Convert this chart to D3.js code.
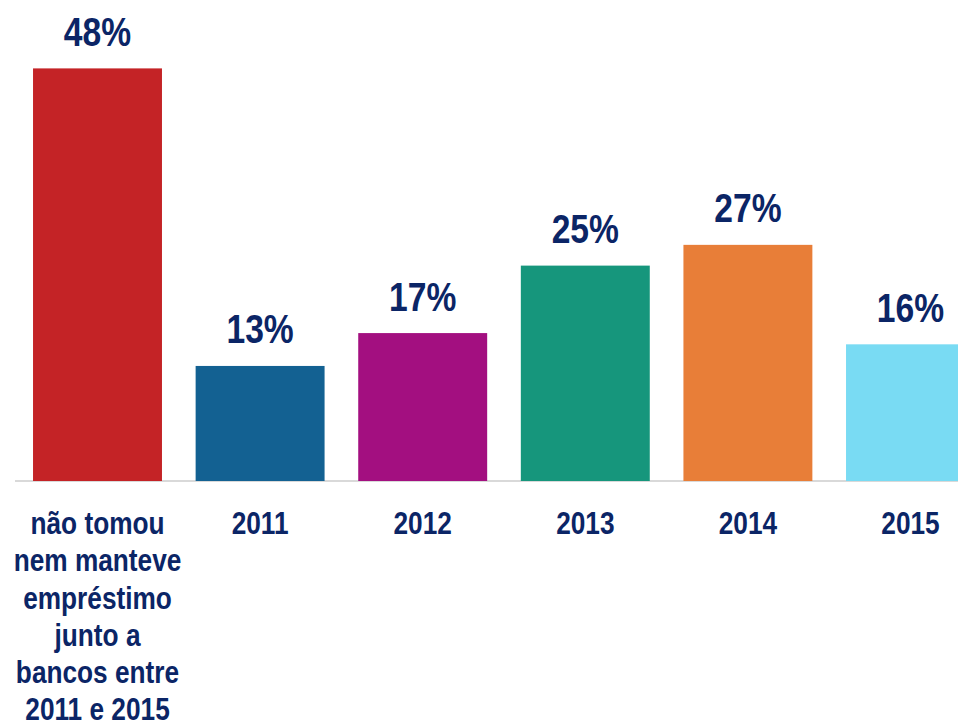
<!DOCTYPE html>
<html>
<head>
<meta charset="utf-8">
<script src="https://cdn.jsdelivr.net/npm/d3@7"></script>
<style>
  html, body { margin: 0; padding: 0; background: #ffffff; }
  svg { display: block; }
  text { font-family: "Liberation Sans", Arial, sans-serif; font-weight: bold; fill: #0b2566; }
</style>
</head>
<body>
<svg id="chart" width="958" height="726"></svg>
<script>
// ---- data ----
const categories = [
  "não tomou nem manteve empréstimo junto a bancos entre 2011 e 2015",
  "2011", "2012", "2013", "2014", "2015"
];
const categoryLines = [
  ["não tomou", "nem manteve", "empréstimo", "junto a", "bancos entre", "2011 e 2015"],
  ["2011"], ["2012"], ["2013"], ["2014"], ["2015"]
];
const values = [47.7, 13.3, 17.1, 24.9, 27.3, 15.8];
const barColors = ["#c42326", "#136192", "#a30f80", "#16967c", "#e87e38", "#79dbf3"];

// ---- layout ----
const svg = d3.select("#chart");
const baseline = 481;
const pxPerPct = 8.65;
const narrow = 0.82; // emulate a narrow bold face

const x = d3.scaleBand()
  .domain(categories)
  .range([16.2, 991.8])
  .paddingInner(0.207)
  .paddingOuter(0.1035);

const y = d3.scaleLinear()
  .domain([0, 50])
  .range([baseline, baseline - 50 * pxPerPct]);

const fmt = v => d3.format(".0f")(v) + "%";
const cx = i => x(categories[i]) + x.bandwidth() / 2;

// axis line
const axis = d3.axisBottom(x).tickSize(0).tickFormat("");
const axisG = svg.append("g").attr("transform", `translate(0,${baseline})`).call(axis);
axisG.select(".domain").attr("stroke", "#d9d9d9").attr("stroke-width", 2)
  .attr("d", `M15,0H958`);

// bars
svg.append("g").selectAll("rect")
  .data(values)
  .join("rect")
  .attr("x", (d, i) => x(categories[i]))
  .attr("y", d => y(d))
  .attr("width", x.bandwidth())
  .attr("height", d => y(0) - y(d))
  .attr("fill", (d, i) => barColors[i]);

// value labels
svg.append("g").selectAll("g")
  .data(values)
  .join("g")
  .attr("transform", (d, i) => `translate(${cx(i)},${y(d) - 22.5}) scale(${narrow},1)`)
  .append("text")
  .attr("text-anchor", "middle")
  .style("font-size", "41px")
  .text(d => fmt(d));

// category labels
svg.append("g").selectAll("g")
  .data(categoryLines)
  .join("g")
  .attr("transform", (d, i) => `translate(${cx(i)},534) scale(${narrow},1)`)
  .append("text")
  .attr("text-anchor", "middle")
  .style("font-size", "32px")
  .each(function(lines) {
    const t = d3.select(this);
    lines.forEach((ln, j) => {
      t.append("tspan").attr("x", 0).attr("dy", j === 0 ? 0 : 37.3).text(ln);
    });
  });
</script>
</body>
</html>
